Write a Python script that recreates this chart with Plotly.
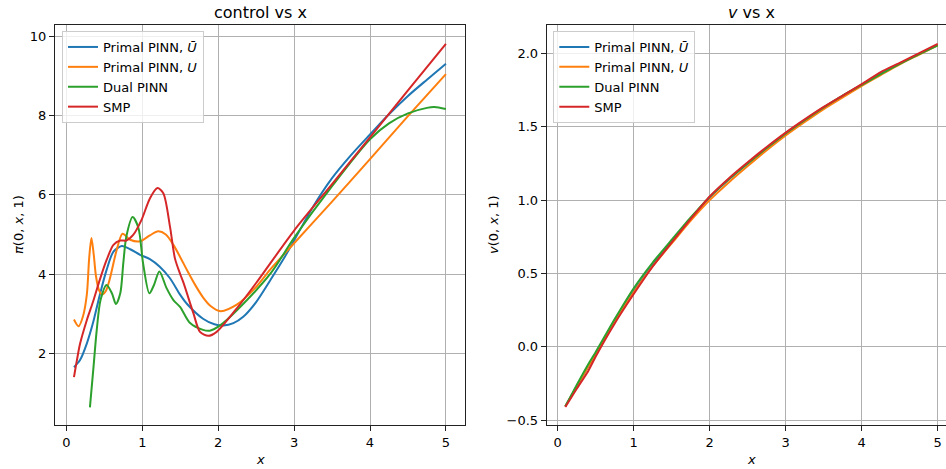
import plotly.graph_objects as go

# ---------------- data: left panel (control vs x) ----------------
x_pu_bar = [0.1, 0.18, 0.27, 0.35, 0.44, 0.53, 0.62, 0.73, 0.84, 0.97, 1.1, 1.23, 1.365, 1.5, 1.59,
            1.8, 1.95, 2.07, 2.2, 2.33, 2.5, 2.69, 2.85, 3.0, 3.25, 3.5, 3.75, 4.0, 4.25, 4.5, 4.75, 5.0]
pi_pu_bar = [1.66, 1.84, 2.26, 2.77, 3.48, 4.11, 4.57, 4.71, 4.63, 4.49, 4.38, 4.19, 3.90, 3.48, 3.25,
             2.88, 2.74, 2.71, 2.77, 2.93, 3.30, 3.86, 4.35, 4.85, 5.70, 6.42, 7.00, 7.52, 8.03, 8.49, 8.90, 9.30]

x_pu = [0.1, 0.16, 0.22, 0.27, 0.30, 0.33, 0.36, 0.39, 0.43, 0.47, 0.52, 0.57, 0.66, 0.74, 0.84, 0.97,
        1.1, 1.21, 1.31, 1.41, 1.5, 1.59, 1.7, 1.8, 1.9, 2.03, 2.25, 2.5, 2.69, 3.0, 3.5, 4.0, 4.5, 5.0]
pi_pu = [2.86, 2.69, 2.95, 3.5, 4.4, 4.91, 4.5, 3.95, 3.6, 3.49, 3.58, 3.87, 4.59, 5.02, 4.87, 4.83,
         4.98, 5.08, 5.0, 4.74, 4.43, 4.10, 3.72, 3.42, 3.20, 3.07, 3.24, 3.68, 4.13, 4.78, 5.83, 6.90, 7.98, 9.04]

x_dual = [0.31, 0.354, 0.40, 0.45, 0.53, 0.60, 0.653, 0.71, 0.75, 0.79, 0.873, 0.95, 1.01, 1.093, 1.154,
          1.225, 1.32, 1.41, 1.5, 1.63, 1.8, 1.89, 2.03, 2.25, 2.69, 3.0, 3.5, 4.0, 4.25, 4.5, 4.75, 4.85, 5.0]
pi_dual = [0.65, 1.59, 2.60, 3.35, 3.73, 3.52, 3.25, 3.52, 4.28, 4.95, 5.44, 5.16, 4.28, 3.52, 3.73,
           4.07, 3.65, 3.35, 3.17, 2.77, 2.60, 2.58, 2.72, 3.10, 4.02, 4.92, 6.22, 7.40, 7.80, 8.05, 8.19, 8.21, 8.16]

x_smp = [0.1, 0.14, 0.18, 0.27, 0.35, 0.44, 0.53, 0.62, 0.71, 0.79, 0.88, 0.99, 1.10, 1.2, 1.277, 1.365,
         1.43, 1.5, 1.54, 1.673, 1.76, 1.87, 1.98, 2.245, 2.5, 3.0, 3.5, 4.0, 4.5, 5.0]
pi_smp = [1.41, 1.85, 2.25, 2.85, 3.3, 3.86, 4.36, 4.74, 4.85, 4.85, 4.99, 5.37, 5.91, 6.17, 6.04, 5.20,
          4.40, 4.0, 3.8, 3.02, 2.55, 2.45, 2.55, 3.14, 3.78, 5.10, 6.27, 7.45, 8.63, 9.80]

# ---------------- data: right panel (v vs x) ----------------
x_v = [0.1, 0.25, 0.4, 0.5, 0.75, 1.0, 1.25, 1.5, 1.75, 2.0, 2.25, 2.5, 2.75, 3.0, 3.25, 3.5,
       3.75, 4.0, 4.25, 4.5, 4.75, 5.0]
v_pu_bar = [-0.405, -0.27, -0.135, -0.05, 0.175, 0.38, 0.56, 0.72, 0.875, 1.02, 1.14, 1.25, 1.355,
            1.455, 1.545, 1.63, 1.71, 1.785, 1.86, 1.93, 1.995, 2.058]
v_pu = [-0.405, -0.27, -0.135, -0.05, 0.17, 0.372, 0.55, 0.705, 0.86, 1.0, 1.12, 1.232, 1.34,
        1.44, 1.532, 1.62, 1.70, 1.778, 1.852, 1.925, 1.99, 2.055]
v_dual = [-0.405, -0.26, -0.12, -0.035, 0.19, 0.40, 0.575, 0.73, 0.882, 1.022, 1.142, 1.25, 1.355,
          1.455, 1.545, 1.632, 1.712, 1.785, 1.858, 1.928, 1.993, 2.055]
v_smp = [-0.41, -0.285, -0.165, -0.065, 0.16, 0.36, 0.548, 0.712, 0.872, 1.025, 1.148, 1.258, 1.362,
         1.46, 1.55, 1.635, 1.712, 1.79, 1.872, 1.935, 2.0, 2.065]

names = ["Primal PINN, <i>Ū</i>", "Primal PINN, <i>U</i>", "Dual PINN", "SMP"]
colors = ["#1f77b4", "#ff7f0e", "#2ca02c", "#d62728"]

W, H = 946, 469
ML, MR, MT, MB = 55, 0, 25, 44
PW = W - ML - MR
PH = H - MT - MB

def px_x(p):
    return (p - ML) / PW

def px_y(p):
    return (H - MB - p) / PH

fig = go.Figure()

left = [(x_pu_bar, pi_pu_bar), (x_pu, pi_pu), (x_dual, pi_dual), (x_smp, pi_smp)]
right = [(x_v, v_pu_bar), (x_v, v_pu), (x_v, v_dual), (x_v, v_smp)]

for i, (xs, ys) in enumerate(left):
    fig.add_trace(go.Scatter(x=xs, y=ys, mode="lines", name=names[i],
                             line=dict(color=colors[i], width=2, shape="spline", smoothing=0.8),
                             xaxis="x", yaxis="y", legend="legend"))
for i, (xs, ys) in enumerate(right):
    fig.add_trace(go.Scatter(x=xs, y=ys, mode="lines", name=names[i],
                             line=dict(color=colors[i], width=2, shape="spline", smoothing=0.6),
                             xaxis="x2", yaxis="y2", legend="legend2"))

font = "DejaVu Sans, Verdana, sans-serif"
axis_common = dict(showgrid=True, gridcolor="#b0b0b0", gridwidth=1, zeroline=False,
                   showline=True, linecolor="#222222", linewidth=1,
                   ticks="outside", ticklen=5, tickcolor="#222222", tickwidth=1,
                   tickfont=dict(family=font, size=13, color="black"))

legend_common = dict(bgcolor="rgba(255,255,255,0.8)", bordercolor="#cccccc", borderwidth=1,
                     font=dict(family=font, size=13, color="black"), itemwidth=30,
                     xanchor="left", yanchor="top", tracegroupgap=0)

fig.update_layout(
    width=W, height=H,
    margin=dict(l=ML, r=MR, t=MT, b=MB, pad=0),
    paper_bgcolor="white", plot_bgcolor="white",
    showlegend=True,
    xaxis=dict(domain=[0, px_x(464.5)], range=[-0.15, 5.245], tickvals=[0, 1, 2, 3, 4, 5],
               mirror=True, anchor="y", **axis_common),
    yaxis=dict(domain=[0, 1], range=[0.204, 10.277], tickvals=[2, 4, 6, 8, 10],
               mirror=True, anchor="x", **axis_common),
    xaxis2=dict(domain=[px_x(546.7), 1], range=[-0.145, 5.109], tickvals=[0, 1, 2, 3, 4, 5],
                mirror=True, anchor="y2", **axis_common),
    yaxis2=dict(domain=[0, 1], range=[-0.532, 2.193], tickvals=[-0.5, 0, 0.5, 1.0, 1.5, 2.0],
                tickformat=".1f", mirror=False, anchor="x2", **axis_common),
    legend=dict(x=px_x(62), y=px_y(31), **legend_common),
    legend2=dict(x=px_x(553.3), y=px_y(31), **legend_common),
)

ann = [
    dict(text="control vs x", x=px_x(260), y=px_y(13), font=dict(size=16)),
    dict(text="<i>v</i> vs x", x=px_x(751), y=px_y(13), font=dict(size=16)),
    dict(text="<i>x</i>", x=px_x(260), y=px_y(459), font=dict(size=13)),
    dict(text="<i>x</i>", x=px_x(751), y=px_y(459), font=dict(size=13)),
    dict(text="<i>π</i>(0, <i>x</i>, 1)", x=px_x(18), y=px_y(225), textangle=-90, font=dict(size=13)),
    dict(text="<i>v</i>(0, <i>x</i>, 1)", x=px_x(493), y=px_y(225), textangle=-90, font=dict(size=13)),
]
for a in ann:
    a["font"].update(family=font, color="black")
    fig.add_annotation(xref="paper", yref="paper", showarrow=False,
                       xanchor="center", yanchor="middle", **a)

fig.write_html("out.html", config={"displayModeBar": False},
               post_script="document.body.style.margin='0';document.body.style.padding='0';"
                           "document.body.style.overflow='hidden';")
